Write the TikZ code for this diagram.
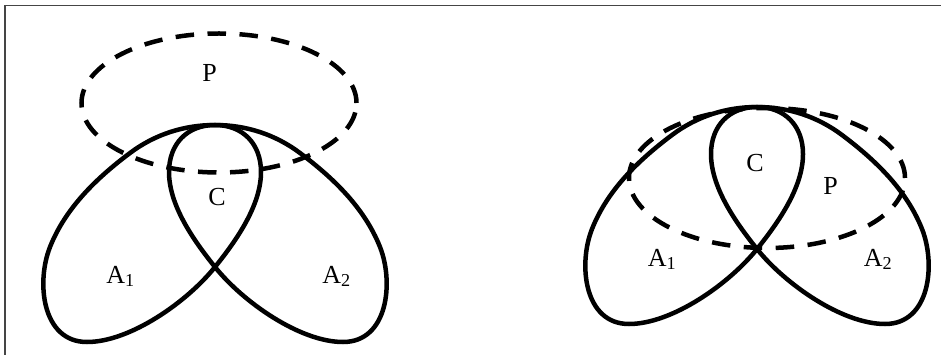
\documentclass[tikz,border=0pt]{standalone}
\usepackage{fontspec}
\setmainfont{Liberation Serif}
\definecolor{frameGray}{rgb}{0.27, 0.27, 0.27}

\begin{document}
\begin{tikzpicture}[x=1pt, y=-1pt,
    loopline/.style={line width = 4.5pt},
    setline/.style={line width = 4.5pt, dash pattern=on 18.5pt off 13.5pt},
    lbl/.style={anchor=base, inner sep=0pt, font=\fontsize{26}{30}\selectfont}]

            \useasboundingbox (0,0) rectangle (941,355);
            \draw[frameGray, line width = 1.3pt] (941,5.6) -- (5,5.6) -- (5,355);

            % sets P (dashed)
            \draw[setline] (219,103) ellipse [x radius=137.5pt, y radius=69.5pt];
            \draw[setline] (767,178) ellipse [x radius=138pt, y radius=70pt];

            % loops A1 and A2, crossing at (\ox,\oy)
            \foreach \ox/\oy in {215/267, 757/249}
              \foreach \side in {1,-1}
                \draw[loopline, shift={(\ox,\oy)}, xscale=\side]
                  (0,-142) .. controls (-31,-142) and (-60.2,-132.6) .. (-85,-114)
                  .. controls (-118.6,-88.8) and (-149.5,-59) .. (-165,-20)
                  .. controls (-179,15.3) and (-173,75) .. (-128,75)
                  .. controls (-85,75) and (-28,35) .. (0,0)
                  .. controls (22,-27.3) and (46,-62) .. (46,-95)
                  .. controls (46,-123) and (28,-142) .. (0,-142) -- cycle;

            % left: P apart from C
            \node[lbl] (pLeft) at (209.5,82) {P};
            \node[lbl] (cLeft) at (217,206) {C};
            \node[lbl] (aOneLeft) at (120.5,283) {A\textsubscript{1}};
            \node[lbl] (aTwoLeft) at (336.5,283) {A\textsubscript{2}};

            % right: P across C
            \node[lbl] (cRight) at (755,171.5) {C};
            \node[lbl] (pRight) at (830.5,195) {P};
            \node[lbl] (aOneRight) at (662,266) {A\textsubscript{1}};
            \node[lbl] (aTwoRight) at (878,266) {A\textsubscript{2}};

\end{tikzpicture}
\end{document}
